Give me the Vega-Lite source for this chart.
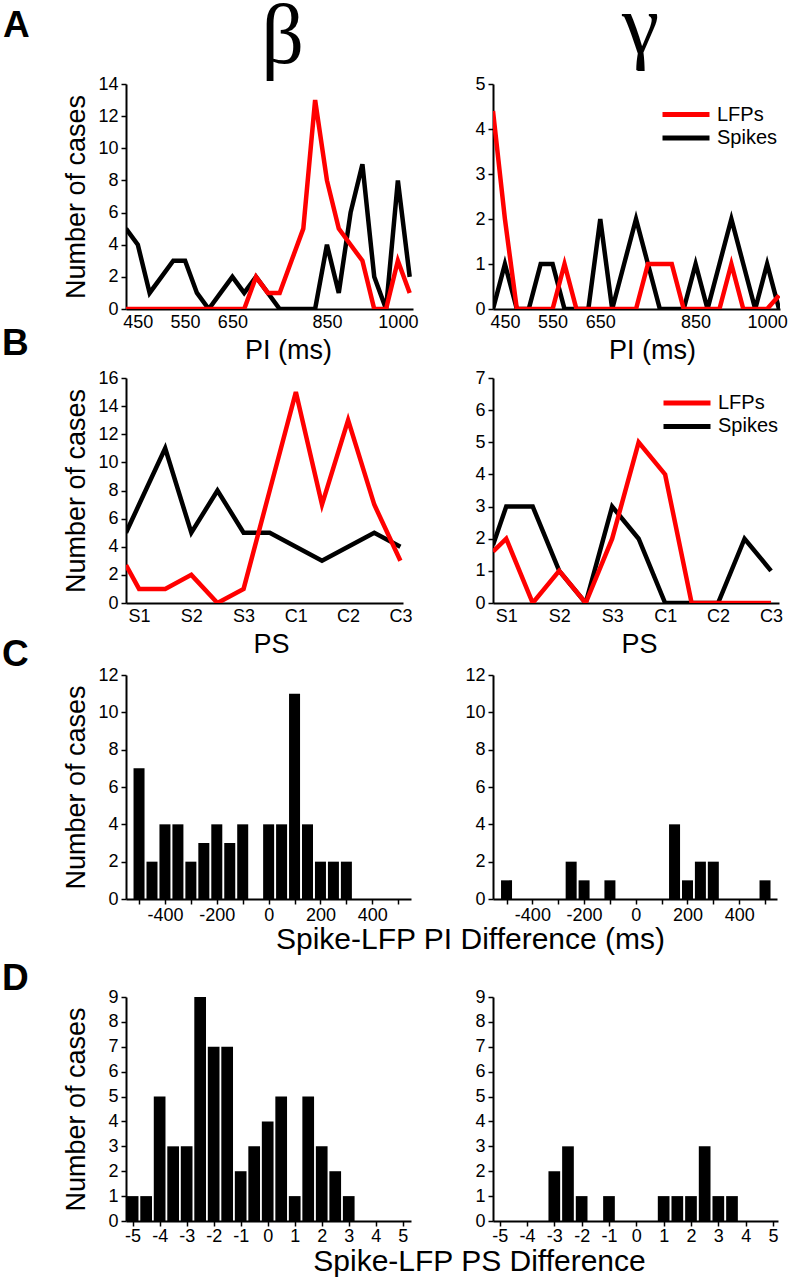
{
  "$schema": "https://vega.github.io/schema/vega-lite/v6.json",
  "autosize": {"type": "none"},
  "padding": {"left": 126, "top": 84, "right": 663, "bottom": 1196},
  "background": "white",
  "title": {"text": "A", "anchor": "start", "frame": "group", "font": "Liberation Sans", "fontSize": 37, "fontWeight": "bold", "color": "black", "baseline": "alphabetic", "offset": 0, "dx": -123, "dy": 88},
  "config": {
    "view": {"stroke": null},
    "font": "Liberation Sans",
    "axis": {"domainColor": "black", "domainWidth": 2, "tickColor": "black", "tickWidth": 1.5, "tickSize": 5, "labelColor": "black", "labelFont": "Liberation Sans", "labelFontSize": 18, "labelPadding": 3, "labelOverlap": false, "labelFlush": false, "titleFont": "Liberation Sans", "titleFontSize": 27, "titleFontWeight": "normal", "titleColor": "black", "grid": false},
    "legend": {"symbolType": "M-4.7,0H4.7", "symbolStrokeWidth": 5, "symbolSize": 100, "labelFont": "Liberation Sans", "labelFontSize": 20, "labelColor": "black", "labelOffset": 21, "rowPadding": 3.4, "padding": 0}
  },
  "datasets": {
    "pi_beta": [
      {"pi": 425, "Spikes": 5, "LFPs": 0}, {"pi": 450, "Spikes": 4, "LFPs": 0}, {"pi": 475, "Spikes": 1, "LFPs": 0},
      {"pi": 500, "Spikes": 2, "LFPs": 0}, {"pi": 525, "Spikes": 3, "LFPs": 0}, {"pi": 550, "Spikes": 3, "LFPs": 0},
      {"pi": 575, "Spikes": 1, "LFPs": 0}, {"pi": 600, "Spikes": 0, "LFPs": 0}, {"pi": 625, "Spikes": 1, "LFPs": 0},
      {"pi": 650, "Spikes": 2, "LFPs": 0}, {"pi": 675, "Spikes": 1, "LFPs": 0}, {"pi": 700, "Spikes": 2, "LFPs": 2},
      {"pi": 725, "Spikes": 1, "LFPs": 1}, {"pi": 750, "Spikes": 0, "LFPs": 1}, {"pi": 775, "Spikes": 0, "LFPs": 3},
      {"pi": 800, "Spikes": 0, "LFPs": 5}, {"pi": 825, "Spikes": 0, "LFPs": 13}, {"pi": 850, "Spikes": 4, "LFPs": 8},
      {"pi": 875, "Spikes": 1, "LFPs": 5}, {"pi": 900, "Spikes": 6, "LFPs": 4}, {"pi": 925, "Spikes": 9, "LFPs": 3},
      {"pi": 950, "Spikes": 2, "LFPs": 0}, {"pi": 975, "Spikes": 0, "LFPs": 0}, {"pi": 1000, "Spikes": 8, "LFPs": 3},
      {"pi": 1025, "Spikes": 2, "LFPs": 1}
    ],
    "pi_gamma": [
      {"pi": 425, "Spikes": 0, "LFPs": 4.4}, {"pi": 450, "Spikes": 1, "LFPs": 2}, {"pi": 475, "Spikes": 0, "LFPs": 0},
      {"pi": 500, "Spikes": 0, "LFPs": 0}, {"pi": 525, "Spikes": 1, "LFPs": 0}, {"pi": 550, "Spikes": 1, "LFPs": 0},
      {"pi": 575, "Spikes": 0, "LFPs": 1}, {"pi": 600, "Spikes": 0, "LFPs": 0}, {"pi": 625, "Spikes": 0, "LFPs": 0},
      {"pi": 650, "Spikes": 2, "LFPs": 0}, {"pi": 675, "Spikes": 0, "LFPs": 0}, {"pi": 700, "Spikes": 1, "LFPs": 0},
      {"pi": 725, "Spikes": 2, "LFPs": 0}, {"pi": 750, "Spikes": 1, "LFPs": 1}, {"pi": 775, "Spikes": 0, "LFPs": 1},
      {"pi": 800, "Spikes": 0, "LFPs": 1}, {"pi": 825, "Spikes": 0, "LFPs": 0}, {"pi": 850, "Spikes": 1, "LFPs": 0},
      {"pi": 875, "Spikes": 0, "LFPs": 0}, {"pi": 900, "Spikes": 1, "LFPs": 0}, {"pi": 925, "Spikes": 2, "LFPs": 1},
      {"pi": 950, "Spikes": 1, "LFPs": 0}, {"pi": 975, "Spikes": 0, "LFPs": 0}, {"pi": 1000, "Spikes": 1, "LFPs": 0},
      {"pi": 1025, "Spikes": 0, "LFPs": 0.3}
    ],
    "ps_beta": [
      {"ps": 0.75, "Spikes": 5, "LFPs": 2.7}, {"ps": 1, "Spikes": 7, "LFPs": 1}, {"ps": 1.5, "Spikes": 11, "LFPs": 1},
      {"ps": 2, "Spikes": 5, "LFPs": 2}, {"ps": 2.5, "Spikes": 8, "LFPs": 0}, {"ps": 3, "Spikes": 5, "LFPs": 1},
      {"ps": 3.5, "Spikes": 5, "LFPs": 8}, {"ps": 4, "Spikes": 4, "LFPs": 15}, {"ps": 4.5, "Spikes": 3, "LFPs": 7},
      {"ps": 5, "Spikes": 4, "LFPs": 13}, {"ps": 5.5, "Spikes": 5, "LFPs": 7}, {"ps": 6, "Spikes": 4, "LFPs": 3}
    ],
    "ps_gamma": [
      {"ps": 0.75, "Spikes": 1.8, "LFPs": 1.6}, {"ps": 1, "Spikes": 3, "LFPs": 2}, {"ps": 1.5, "Spikes": 3, "LFPs": 0},
      {"ps": 2, "Spikes": 1, "LFPs": 1}, {"ps": 2.5, "Spikes": 0, "LFPs": 0}, {"ps": 3, "Spikes": 3, "LFPs": 2},
      {"ps": 3.5, "Spikes": 2, "LFPs": 5}, {"ps": 4, "Spikes": 0, "LFPs": 4}, {"ps": 4.5, "Spikes": 0, "LFPs": 0},
      {"ps": 5, "Spikes": 0, "LFPs": 0}, {"ps": 5.5, "Spikes": 2, "LFPs": 0}, {"ps": 6, "Spikes": 1, "LFPs": 0}
    ],
    "pid_beta": [
      {"diff": -500, "n": 7}, {"diff": -450, "n": 2}, {"diff": -400, "n": 4}, {"diff": -350, "n": 4},
      {"diff": -300, "n": 2}, {"diff": -250, "n": 3}, {"diff": -200, "n": 4}, {"diff": -150, "n": 3},
      {"diff": -100, "n": 4}, {"diff": 0, "n": 4}, {"diff": 50, "n": 4}, {"diff": 100, "n": 11},
      {"diff": 150, "n": 4}, {"diff": 200, "n": 2}, {"diff": 250, "n": 2}, {"diff": 300, "n": 2}
    ],
    "pid_gamma": [
      {"diff": -500, "n": 1}, {"diff": -250, "n": 2}, {"diff": -200, "n": 1}, {"diff": -100, "n": 1},
      {"diff": 150, "n": 4}, {"diff": 200, "n": 1}, {"diff": 250, "n": 2}, {"diff": 300, "n": 2}, {"diff": 500, "n": 1}
    ],
    "psd_beta": [
      {"diff": -5, "n": 1}, {"diff": -4.5, "n": 1}, {"diff": -4, "n": 5}, {"diff": -3.5, "n": 3}, {"diff": -3, "n": 3},
      {"diff": -2.5, "n": 9}, {"diff": -2, "n": 7}, {"diff": -1.5, "n": 7}, {"diff": -1, "n": 2}, {"diff": -0.5, "n": 3},
      {"diff": 0, "n": 4}, {"diff": 0.5, "n": 5}, {"diff": 1, "n": 1}, {"diff": 1.5, "n": 5}, {"diff": 2, "n": 3},
      {"diff": 2.5, "n": 2}, {"diff": 3, "n": 1}
    ],
    "psd_gamma": [
      {"diff": -3, "n": 2}, {"diff": -2.5, "n": 3}, {"diff": -2, "n": 1}, {"diff": -1, "n": 1}, {"diff": 1, "n": 1},
      {"diff": 1.5, "n": 1}, {"diff": 2, "n": 1}, {"diff": 2.5, "n": 3}, {"diff": 3, "n": 1}, {"diff": 3.5, "n": 1}
    ]
  },
  "columns": 2,
  "spacing": {"row": 69, "column": 80},
  "bounds": "flush",
  "align": "each",
  "resolve": {"scale": {"color": "independent"}, "legend": {"color": "independent"}},
  "concat": [
    {
      "width": 287, "height": 225,
      "data": {"name": "pi_beta"},
      "transform": [{"fold": ["Spikes", "LFPs"], "as": ["series", "n"]}],
      "title": {"text": "β", "font": "Liberation Serif", "fontSize": 84, "fontWeight": "normal", "color": "black", "anchor": "middle", "frame": "group", "baseline": "alphabetic", "offset": -72, "dx": 13},
      "mark": {"type": "line", "strokeWidth": 4.5, "clip": true},
      "encoding": {
        "x": {"field": "pi", "type": "quantitative", "scale": {"domain": [425, 1032], "nice": false, "zero": false},
              "axis": {"values": [450, 550, 650, 850, 1000], "labelExpr": "'' + datum.value", "ticks": false, "labelPadding": 4, "title": "PI (ms)", "titleX": 162, "titlePadding": 6}},
        "y": {"field": "n", "type": "quantitative", "scale": {"domain": [0, 14], "nice": false},
              "axis": {"values": [0, 2, 4, 6, 8, 10, 12, 14], "title": "Number of cases", "titlePadding": 7}},
        "color": {"field": "series", "type": "nominal", "scale": {"domain": ["LFPs", "Spikes"], "range": ["#ff0000", "#000000"]}, "legend": null}
      }
    },
    {
      "width": 287, "height": 225,
      "data": {"name": "pi_gamma"},
      "transform": [{"fold": ["Spikes", "LFPs"], "as": ["series", "n"]}],
      "title": {"text": "γ", "font": "Liberation Serif", "fontSize": 84, "fontWeight": "normal", "color": "black", "anchor": "middle", "frame": "group", "baseline": "alphabetic", "offset": -62, "dx": 4},
      "mark": {"type": "line", "strokeWidth": 4.5, "clip": true},
      "encoding": {
        "x": {"field": "pi", "type": "quantitative", "scale": {"domain": [425, 1027], "nice": false, "zero": false},
              "axis": {"values": [450, 550, 650, 850, 1000], "labelExpr": "'' + datum.value", "ticks": false, "labelPadding": 4, "title": "PI (ms)", "titleX": 159, "titlePadding": 6}},
        "y": {"field": "n", "type": "quantitative", "scale": {"domain": [0, 5], "nice": false},
              "axis": {"values": [0, 1, 2, 3, 4, 5], "title": null}},
        "color": {"field": "series", "type": "nominal", "scale": {"domain": ["LFPs", "Spikes"], "range": ["#ff0000", "#000000"]},
                  "legend": {"orient": "none", "legendX": 183, "legendY": 20.5, "title": null}}
      }
    },
    {
      "width": 277, "height": 225,
      "data": {"name": "ps_beta"},
      "transform": [{"fold": ["Spikes", "LFPs"], "as": ["series", "n"]}],
      "title": {"text": "B", "font": "Liberation Sans", "fontSize": 37, "fontWeight": "bold", "color": "black", "anchor": "start", "frame": "group", "baseline": "alphabetic", "offset": -23, "dx": -124},
      "mark": {"type": "line", "strokeWidth": 4.5, "clip": true},
      "encoding": {
        "x": {"field": "ps", "type": "quantitative", "scale": {"domain": [0.75, 6.05], "nice": false, "zero": false},
              "axis": {"values": [1, 2, 3, 4, 5, 6], "labelExpr": "['S1','S2','S3','C1','C2','C3'][datum.value - 1]", "ticks": false, "labelPadding": 4, "title": "PS", "titleX": 145, "titlePadding": 6}},
        "y": {"field": "n", "type": "quantitative", "scale": {"domain": [0, 16], "nice": false},
              "axis": {"values": [0, 2, 4, 6, 8, 10, 12, 14, 16], "title": "Number of cases", "titlePadding": 7}},
        "color": {"field": "series", "type": "nominal", "scale": {"domain": ["LFPs", "Spikes"], "range": ["#ff0000", "#000000"]}, "legend": null}
      }
    },
    {
      "width": 286, "height": 225,
      "data": {"name": "ps_gamma"},
      "transform": [{"fold": ["Spikes", "LFPs"], "as": ["series", "n"]}],
      "mark": {"type": "line", "strokeWidth": 4.5, "clip": true},
      "encoding": {
        "x": {"field": "ps", "type": "quantitative", "scale": {"domain": [0.75, 6.15], "nice": false, "zero": false},
              "axis": {"values": [1, 2, 3, 4, 5, 6], "labelExpr": "['S1','S2','S3','C1','C2','C3'][datum.value - 1]", "ticks": false, "labelPadding": 4, "title": "PS", "titleX": 146, "titlePadding": 6}},
        "y": {"field": "n", "type": "quantitative", "scale": {"domain": [0, 7], "nice": false},
              "axis": {"values": [0, 1, 2, 3, 4, 5, 6, 7], "title": null}},
        "color": {"field": "series", "type": "nominal", "scale": {"domain": ["LFPs", "Spikes"], "range": ["#ff0000", "#000000"]},
                  "legend": {"orient": "none", "legendX": 184, "legendY": 15, "title": null}}
      }
    },
    {
      "width": 285, "height": 227,
      "data": {"name": "pid_beta"},
      "title": {"text": "C", "font": "Liberation Sans", "fontSize": 37, "fontWeight": "bold", "color": "black", "anchor": "start", "frame": "group", "baseline": "alphabetic", "offset": -37, "dx": -124},
      "mark": {"type": "bar", "width": 11, "color": "black", "clip": true},
      "encoding": {
        "x": {"field": "diff", "type": "quantitative", "scale": {"domain": [-531, 530], "nice": false, "zero": false},
              "axis": {"values": [-500, -400, -300, -200, -100, 0, 100, 200, 300, 400, 500], "labelExpr": "datum.value % 200 == 0 ? '' + datum.value : ''", "tickSize": 5, "labelPadding": 2, "title": "Spike-LFP PI Difference (ms)", "titleFontSize": 30, "titleX": 344, "titlePadding": 0}},
        "y": {"field": "n", "type": "quantitative", "scale": {"domain": [0, 12], "range": [227, 3], "nice": false},
              "axis": {"values": [0, 2, 4, 6, 8, 10, 12], "title": "Number of cases", "titlePadding": 7}}
      }
    },
    {
      "width": 284, "height": 227,
      "data": {"name": "pid_gamma"},
      "mark": {"type": "bar", "width": 11, "color": "black", "clip": true},
      "encoding": {
        "x": {"field": "diff", "type": "quantitative", "scale": {"domain": [-533, 527], "nice": false, "zero": false},
              "axis": {"values": [-500, -400, -300, -200, -100, 0, 100, 200, 300, 400, 500], "labelExpr": "datum.value % 200 == 0 ? '' + datum.value : ''", "tickSize": 5, "labelPadding": 2, "title": null}},
        "y": {"field": "n", "type": "quantitative", "scale": {"domain": [0, 12], "range": [227, 3], "nice": false},
              "axis": {"values": [0, 2, 4, 6, 8, 10, 12], "title": null}}
      }
    },
    {
      "width": 285, "height": 253,
      "data": {"name": "psd_beta"},
      "title": {"text": "D", "font": "Liberation Sans", "fontSize": 37, "fontWeight": "bold", "color": "black", "anchor": "start", "frame": "group", "baseline": "alphabetic", "offset": -59, "dx": -124},
      "mark": {"type": "bar", "width": 11.7, "color": "black", "clip": true},
      "encoding": {
        "x": {"field": "diff", "type": "quantitative", "scale": {"domain": [-5.06, 5.12], "nice": false, "zero": false},
              "axis": {"values": [-5, -4, -3, -2, -1, 0, 1, 2, 3, 4, 5], "labelExpr": "'' + datum.value", "tickSize": 5, "labelPadding": 1, "title": "Spike-LFP PS Difference", "titleFontSize": 30, "titleX": 353, "titlePadding": 1}},
        "y": {"field": "n", "type": "quantitative", "scale": {"domain": [0, 9], "range": [253, 29], "nice": false},
              "axis": {"values": [0, 1, 2, 3, 4, 5, 6, 7, 8, 9], "title": "Number of cases", "titlePadding": 17}}
      }
    },
    {
      "width": 285, "height": 253,
      "data": {"name": "psd_gamma"},
      "mark": {"type": "bar", "width": 11.7, "color": "black", "clip": true},
      "encoding": {
        "x": {"field": "diff", "type": "quantitative", "scale": {"domain": [-5.06, 5.0], "nice": false, "zero": false},
              "axis": {"values": [-5, -4, -3, -2, -1, 0, 1, 2, 3, 4, 5], "labelExpr": "'' + datum.value", "tickSize": 5, "labelPadding": 1, "title": null}},
        "y": {"field": "n", "type": "quantitative", "scale": {"domain": [0, 9], "range": [253, 29], "nice": false},
              "axis": {"values": [0, 1, 2, 3, 4, 5, 6, 7, 8, 9], "title": null}}
      }
    }
  ]
}
